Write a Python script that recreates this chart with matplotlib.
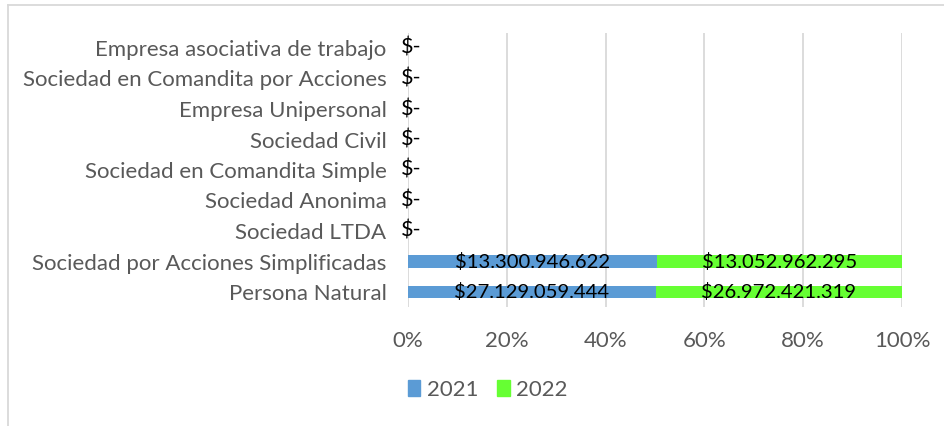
import matplotlib
matplotlib.use("Agg")
import matplotlib.pyplot as plt
from matplotlib.lines import Line2D
import numpy as np

categories = [
    "Persona Natural",
    "Sociedad por Acciones Simplificadas",
    "Sociedad LTDA",
    "Sociedad Anonima",
    "Sociedad en Comandita Simple",
    "Sociedad Civil",
    "Empresa Unipersonal",
    "Sociedad en Comandita por Acciones",
    "Empresa asociativa de trabajo",
]
values_2021 = [27129059444, 13300946622, 0, 0, 0, 0, 0, 0, 0]
values_2022 = [26972421319, 13052962295, 0, 0, 0, 0, 0, 0, 0]
series_names = ["2021", "2022"]
colors = ["#5B9BD5", "#66FF33"]
xticks = [0, 0.2, 0.4, 0.6, 0.8, 1.0]
xtick_labels = ["0%", "20%", "40%", "60%", "80%", "100%"]

plt.rcParams['font.family'] = ['Lato', 'DejaVu Sans']

fig = plt.figure(figsize=(9.44, 4.26), dpi=100)
ax = fig.add_axes([408/944, 1-307.25/426, 494/944, (307.25-32.75)/426])

v1 = np.array(values_2021, dtype=float)
v2 = np.array(values_2022, dtype=float)
tot = v1 + v2
p1 = np.where(tot > 0, v1 / np.where(tot > 0, tot, 1), 0)
p2 = np.where(tot > 0, v2 / np.where(tot > 0, tot, 1), 0)
y = np.arange(len(categories))

def fmt(v):
    if v == 0:
        return "$-"
    return "$" + f"{int(v):,}".replace(",", ".")

ax.barh(y, p1, height=0.4, color=colors[0], label=series_names[0], zorder=2)
ax.barh(y, p2, left=p1, height=0.4, color=colors[1], label=series_names[1], zorder=2)

fs = 16
dfs = 14.6
for i in range(len(categories)):
    if tot[i] == 0:
        ax.text(0.007, y[i], fmt(0), ha="center", va="center", fontsize=dfs + 1, color="black", zorder=3)
    else:
        ax.text(p1[i] / 2, y[i], fmt(v1[i]), ha="center", va="center", fontsize=dfs, color="black", zorder=3)
        ax.text(p1[i] + p2[i] / 2, y[i], fmt(v2[i]), ha="center", va="center", fontsize=dfs, color="black", zorder=3)

ax.set_xlim(0, 1)
ax.set_ylim(-0.5, len(categories) - 0.5)
ax.set_xticks(xticks)
ax.set_xticklabels(xtick_labels)
ax.set_yticks(y)
ax.set_yticklabels(categories)
ax.tick_params(axis="both", length=0, labelsize=fs, labelcolor="#595959")
ax.tick_params(axis="y", pad=15.5)
ax.tick_params(axis="x", pad=17)
ax.grid(axis="x", color="#D9D9D9", linewidth=1.3, zorder=0)
for s in ax.spines.values():
    s.set_visible(False)

handles = [plt.Rectangle((0, 0), 1, 1, color=c) for c in colors]
fig.legend(handles, series_names, loc="center", bbox_to_anchor=(488/944, 1-390/426),
           ncol=2, frameon=False, fontsize=fs, labelcolor="#595959",
           handlelength=0.55, handleheight=0.75, handletextpad=0.3, columnspacing=0.85)

# chart border
fig.add_artist(Line2D([7.5/944, 7.5/944], [0, 1-4.5/426], transform=fig.transFigure, color="#D9D9D9", linewidth=1.3))
fig.add_artist(Line2D([7.5/944, 1], [1-4.5/426, 1-4.5/426], transform=fig.transFigure, color="#D9D9D9", linewidth=1.3))

fig.savefig("out.png", dpi=100)
